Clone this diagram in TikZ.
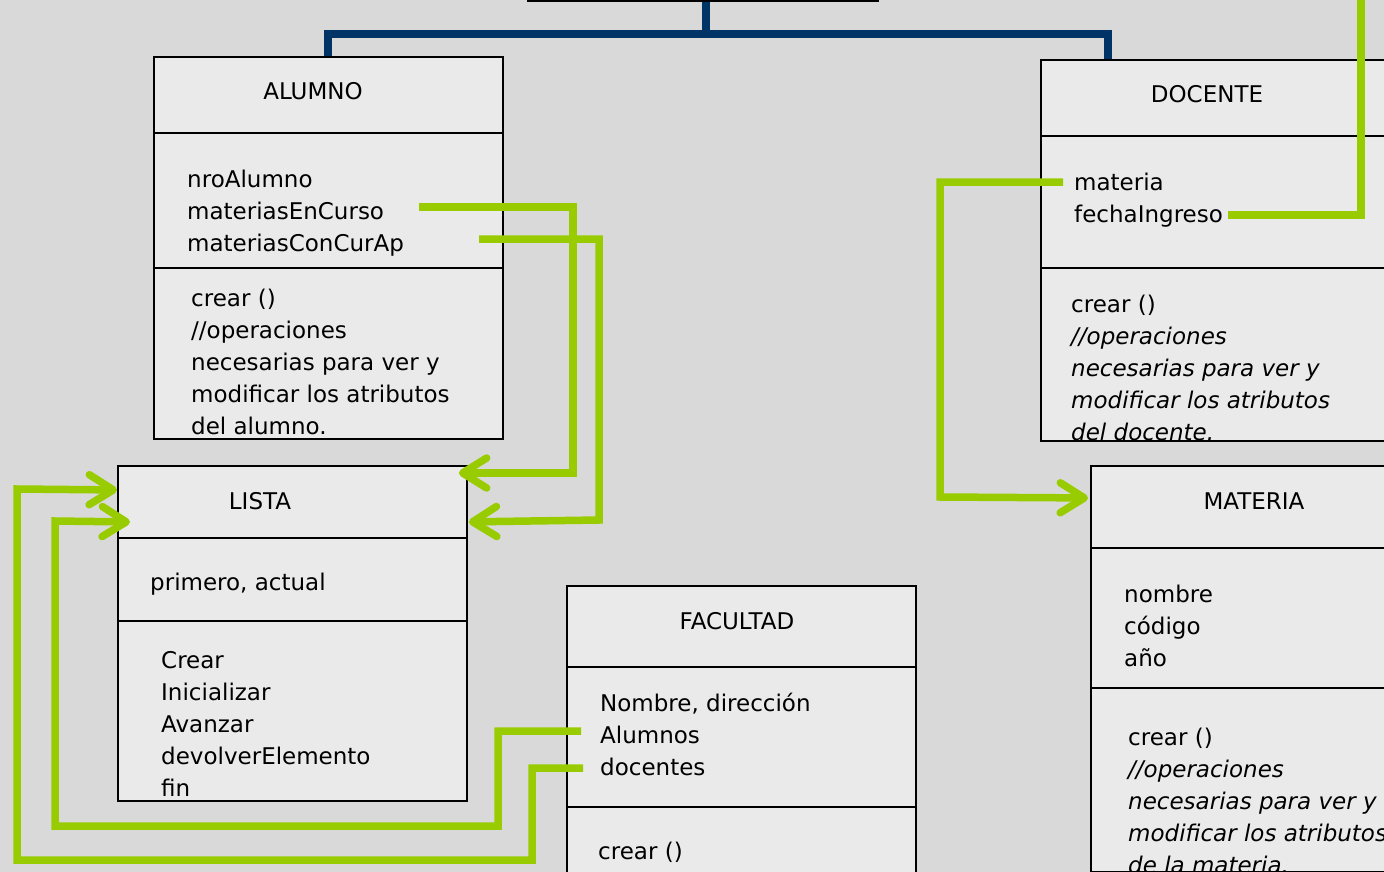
\documentclass[tikz,border=0pt]{standalone}
\usepackage{fontspec}
\setmainfont{DejaVu Sans}
\usepackage{tikz}
\usetikzlibrary{arrows.meta,positioning,calc}
\definecolor{fondo}{HTML}{D9D9D9}
\definecolor{caja}{HTML}{EAEAEA}
\definecolor{verde}{HTML}{99CC00}
\definecolor{azul}{HTML}{003366}

\begin{document}
\begin{tikzpicture}[x=1pt, y=-1pt, font=\fontsize{23}{32}\selectfont,
  comp/.style={draw, line width=1.9pt, fill=caja, anchor=north west, inner sep=0pt,
               minimum width=349pt},
  ttl/.style={inner sep=0pt},
  txt/.style={anchor=north west, inner sep=0pt, align=left},
  rel/.style={draw=verde, line width=7.5pt, line join=miter},
  flecha/.style={rel, -{Straight Barb[length=24pt, width=30pt, round]}},
  herencia/.style={draw=azul, line width=8pt}]
\path[use as bounding box, fill=fondo] (0,0) rectangle (1384,872);
\clip (0,0) rectangle (1384,872);

% clases
\node[comp, fill=fondo, minimum width=350pt, minimum height=60pt, anchor=south west] (padre) at (527,2) {};

\node[comp, minimum height=76pt] (alumnoT) at (153,56) {};
\node[comp, minimum height=135pt] (alumnoA) at (153,132) {};
\node[comp, minimum height=171pt] (alumnoO) at (153,267) {};

\node[comp, minimum height=76pt] (docenteT) at (1040,59) {};
\node[comp, minimum height=132pt] (docenteA) at (1040,135) {};
\node[comp, minimum height=173pt] (docenteO) at (1040,267) {};

\node[comp, minimum height=72pt] (listaT) at (117,465) {};
\node[comp, minimum height=83pt] (listaA) at (117,537) {};
\node[comp, minimum height=180pt] (listaO) at (117,620) {};

\node[comp, minimum height=81pt] (facultadT) at (566,585) {};
\node[comp, minimum height=140pt] (facultadA) at (566,666) {};
\node[comp, minimum height=120pt] (facultadO) at (566,806) {};

\node[comp, minimum height=82pt] (materiaT) at (1090,465) {};
\node[comp, minimum height=140pt] (materiaA) at (1090,547) {};
\node[comp, minimum height=184pt] (materiaO) at (1090,687) {};

% textos
\node[ttl] (alumnoN) at (313,91) {ALUMNO};
\node[txt] (alumnoAt) at (187,164.6) {\strut nroAlumno\\materiasEnCurso\\materiasConCurAp};
\node[txt] (alumnoOp) at (191,283.6) {\strut crear ()\\//operaciones\\necesarias para ver y\\modificar los atributos\\del alumno.};

\node[ttl] (docenteN) at (1207,94) {DOCENTE};
\node[txt] (docenteAt) at (1074,167.6) {\strut materia\\fechaIngreso};
\node[txt] (docenteOp) at (1071,289.6) {\strut crear ()\\\textit{//operaciones}\\\textit{necesarias para ver y}\\\textit{modificar los atributos}\\\textit{del docente.}};

\node[ttl] (listaN) at (260,501) {LISTA};
\node[txt] (listaAt) at (150,567.6) {\strut primero, actual};
\node[txt] (listaOp) at (161,645.6) {\strut Crear\\Inicializar\\Avanzar\\devolverElemento\\fin};

\node[ttl] (facultadN) at (737,621) {FACULTAD};
\node[txt] (facultadAt) at (600,688.6) {\strut Nombre, dirección\\Alumnos\\docentes};
\node[txt] (facultadOp) at (598,836.6) {\strut crear ()\\//operaciones};

\node[ttl] (materiaN) at (1254,501) {MATERIA};
\node[txt] (materiaAt) at (1124,579.6) {\strut nombre\\código\\año};
\node[txt] (materiaOp) at (1128,722.6) {\strut crear ()\\\textit{//operaciones}\\\textit{necesarias para ver y}\\\textit{modificar los atributos}\\\textit{de la materia.}};

% herencia
\draw[herencia] ([xshift=3pt]padre.south) -- ++(0,32) coordinate (hmid) -| (alumnoT.north);
\draw[herencia] (hmid) -| ([xshift=68pt]docenteT.north west);

% relaciones
\coordinate (enc) at (419,207);
\coordinate (cca) at (479,239);
\coordinate (fac1) at (581,731);
\coordinate (fac2) at (583,768);
\coordinate (mat) at (1063,182);
\coordinate (fec) at (1228,215);
\coordinate (l1) at ($(listaT.north east)+(-9,8)$);
\coordinate (l2) at ($(listaT.south east)+(1,-17)$);
\coordinate (l3) at ($(listaT.west)+(13,20)$);
\coordinate (l4) at ($(listaT.west)+(0,-12)$);
\coordinate (m1) at ($(materiaT.west)+(-2,-9)$);
\draw[flecha] (enc) -| (573,473) -- (l1);
\draw[flecha] (cca) -| (599,520) -- (l2);
\draw[flecha] (fac1) -| (498,826) -| (55,521) -- (l3);
\draw[flecha] (fac2) -| (532,860) -| (17,489) -- (l4);
\draw[flecha] (mat) -| (940,497) -- (m1);
\draw[rel] (fec) -| (1361,-10);
\end{tikzpicture}
\end{document}
